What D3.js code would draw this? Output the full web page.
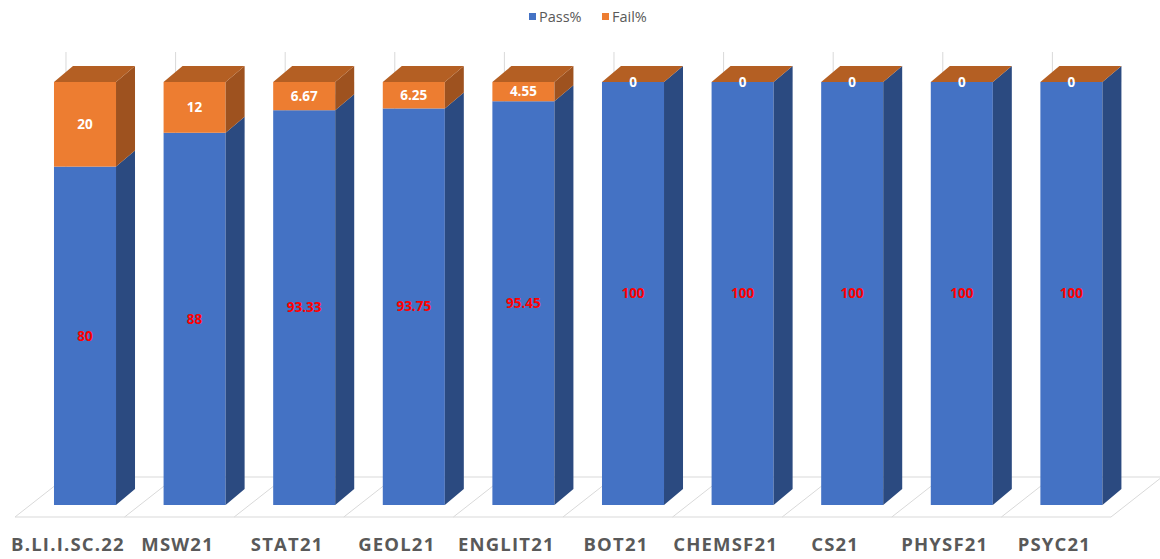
<!DOCTYPE html>
<html>
<head>
<meta charset="utf-8">
<script src="https://cdn.jsdelivr.net/npm/d3@7"></script>
<style>
  body { margin: 0; background: #fff; }
  svg text { font-family: "Open Sans", "Liberation Sans", sans-serif; }
</style>
</head>
<body>
<div id="chart"></div>
<script>
const categories = ['B.LI.I.SC.22', 'MSW21', 'STAT21', 'GEOL21', 'ENGLIT21', 'BOT21', 'CHEMSF21', 'CS21', 'PHYSF21', 'PSYC21'];
const passPct = [80, 88, 93.33, 93.75, 95.45, 100, 100, 100, 100, 100];
const failPct = [20, 12, 6.67, 6.25, 4.55, 0, 0, 0, 0, 0];
const seriesNames = ['Pass%', 'Fail%'];

const width = 1160, height = 559;
const depth = { dx: 19, dy: 16 };
const colors = {
  pass: '#4472C4', passSide: '#2B4A80',
  fail: '#ED7D31', failSide: '#9E521F', failTop: '#B45F23',
  grid: '#D9D9D9', text: '#595959'
};

const svg = d3.select('#chart').append('svg')
  .attr('width', width)
  .attr('height', height);

const x = d3.scaleBand()
  .domain(categories)
  .range([30.2, 1126.2])
  .paddingInner(0.434)
  .paddingOuter(0.217);

const y = d3.scaleLinear()
  .domain([0, 100])
  .range([505, 82]);

const poly = d3.line();

// floor + back wall lines
const floorFront = 517, floorBack = 477, wallTop = 52;
const sepOffset = -39, sepSlant = 51;
const grid = svg.append('g').attr('stroke', colors.grid).attr('fill', 'none').attr('stroke-width', 1);
const seps = categories.map(c => x(c) + sepOffset);
seps.push(x(categories[categories.length - 1]) + x.step() + sepOffset);
grid.append('line')
  .attr('x1', seps[0]).attr('x2', seps[seps.length - 1])
  .attr('y1', floorFront).attr('y2', floorFront);
grid.append('line')
  .attr('x1', seps[0] + sepSlant).attr('x2', seps[seps.length - 1] + sepSlant)
  .attr('y1', floorBack).attr('y2', floorBack);
seps.forEach(sx => {
  grid.append('line')
    .attr('x1', sx).attr('y1', floorFront)
    .attr('x2', sx + sepSlant).attr('y2', floorBack);
  grid.append('line')
    .attr('x1', sx + sepSlant).attr('y1', floorBack)
    .attr('x2', sx + sepSlant).attr('y2', wallTop);
});

// bars
const bw = x.bandwidth();
const bars = svg.append('g');

function block(g, x0, yTop, yBot, front, side) {
  g.append('rect')
    .attr('x', x0).attr('y', yTop)
    .attr('width', bw).attr('height', Math.max(0, yBot - yTop))
    .attr('fill', front);
  g.append('path')
    .attr('d', poly([
      [x0 + bw, yBot], [x0 + bw, yTop],
      [x0 + bw + depth.dx, yTop - depth.dy], [x0 + bw + depth.dx, yBot - depth.dy]
    ]) + 'Z')
    .attr('fill', side);
}

categories.forEach((c, i) => {
  const g = bars.append('g');
  const x0 = x(c);
  const yPass = y(passPct[i]);
  const yTotal = y(passPct[i] + failPct[i]);
  block(g, x0, yPass, y(0), colors.pass, colors.passSide);
  if (failPct[i] > 0) block(g, x0, yTotal, yPass, colors.fail, colors.failSide);
  g.append('path')
    .attr('d', poly([
      [x0, yTotal], [x0 + bw, yTotal],
      [x0 + bw + depth.dx, yTotal - depth.dy], [x0 + depth.dx, yTotal - depth.dy]
    ]) + 'Z')
    .attr('fill', colors.failTop);

  g.append('text')
    .attr('x', x0 + bw / 2)
    .attr('y', (yPass + y(0)) / 2)
    .attr('dy', '0.35em')
    .attr('text-anchor', 'middle')
    .attr('font-size', 13.5).attr('font-weight', 'bold')
    .attr('fill', '#FF0000')
    .text(passPct[i]);
  g.append('text')
    .attr('x', x0 + bw / 2)
    .attr('y', (yTotal + yPass) / 2)
    .attr('dy', '0.35em')
    .attr('text-anchor', 'middle')
    .attr('font-size', 13.5).attr('font-weight', 'bold')
    .attr('fill', '#FFFFFF')
    .text(failPct[i]);
});

// category labels
svg.append('g').selectAll('text')
  .data(categories)
  .join('text')
  .attr('x', d => x(d) + bw / 2 - 17)
  .attr('y', 551)
  .attr('text-anchor', 'middle')
  .attr('font-size', 18.5).attr('font-weight', 'bold')
  .attr('letter-spacing', 1.2)
  .attr('fill', colors.text)
  .text(d => d);

// legend
const legend = svg.append('g').attr('transform', 'translate(529,0)');
const legendX = [0, 73];
const legendColors = [colors.pass, colors.fail];
seriesNames.forEach((name, i) => {
  legend.append('rect')
    .attr('x', legendX[i]).attr('y', 13)
    .attr('width', 7).attr('height', 7)
    .attr('fill', legendColors[i]);
  legend.append('text')
    .attr('x', legendX[i] + 10).attr('y', 22)
    .attr('font-size', 14.5)
    .attr('fill', colors.text)
    .text(name);
});
</script>
</body>
</html>
